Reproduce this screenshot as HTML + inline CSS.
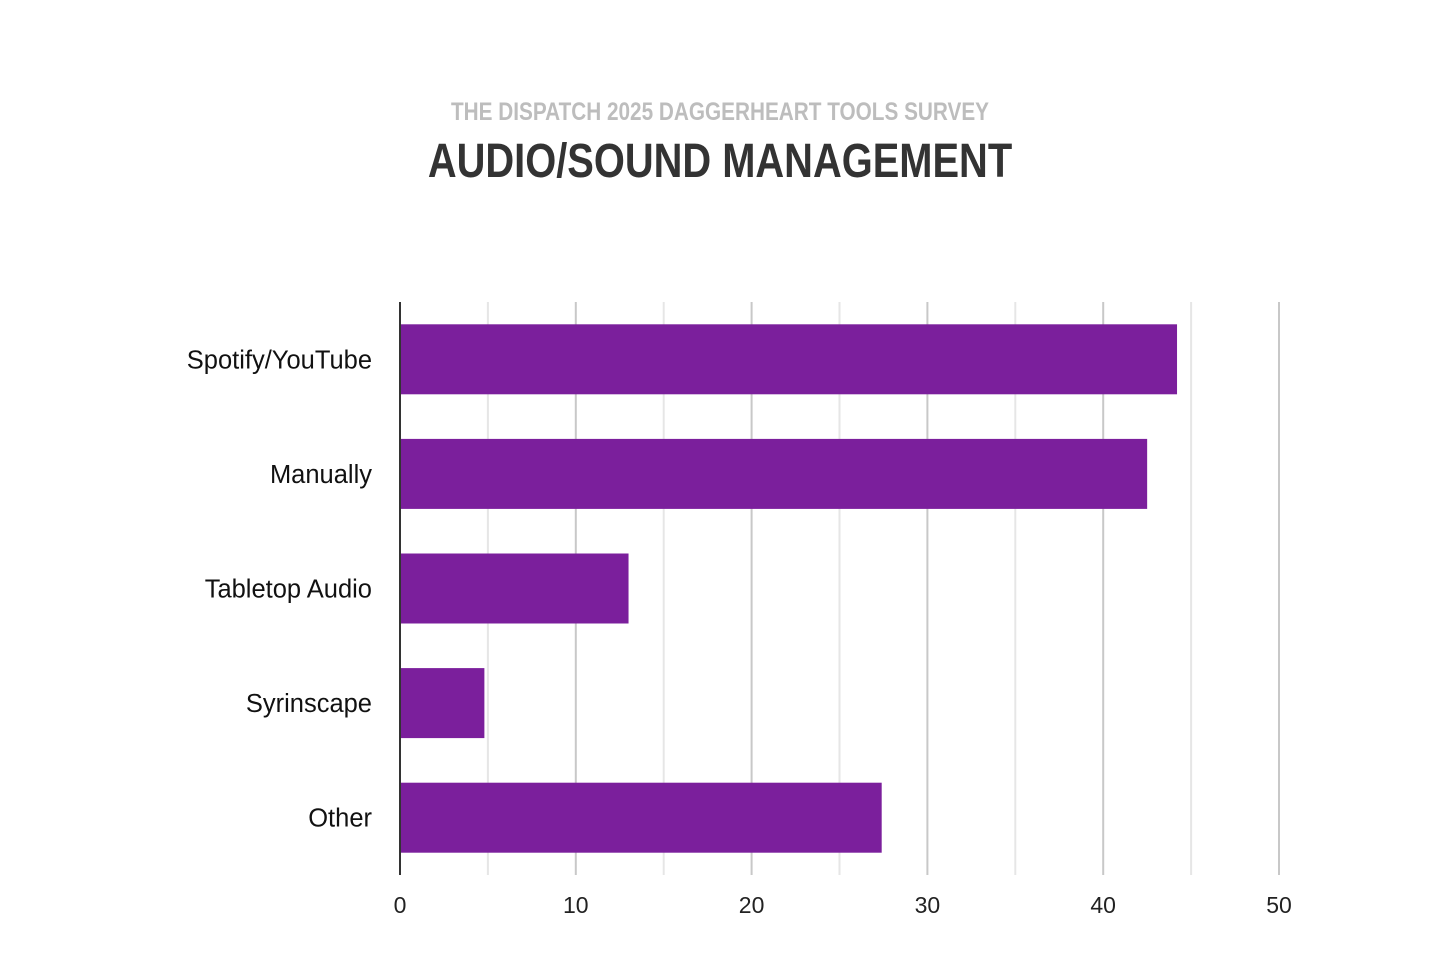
<!DOCTYPE html>
<html>
<head>
<meta charset="utf-8">
<style>
html,body{margin:0;padding:0;background:#fff;}
body{width:1440px;height:960px;position:relative;overflow:hidden;font-family:"Liberation Sans",Arial,sans-serif;}
.sub{position:absolute;left:0;width:1440px;top:98px;text-align:center;font-family:"Liberation Sans Narrow","Liberation Sans",sans-serif;font-weight:bold;font-size:25px;color:#bdbdbd;transform:scaleX(0.83);transform-origin:720px 0;}
.title{position:absolute;left:0;width:1440px;top:134px;text-align:center;font-family:"Liberation Sans Narrow","Liberation Sans",sans-serif;font-weight:bold;font-size:48px;color:#333;transform:scaleX(0.83);transform-origin:720px 0;}
svg{position:absolute;left:0;top:0;}
</style>
</head>
<body>
<div class="sub">THE DISPATCH 2025 DAGGERHEART TOOLS SURVEY</div>
<div class="title">AUDIO/SOUND MANAGEMENT</div>
<svg id="chart" width="1440" height="960"></svg>
<script>
const categories = ["Spotify/YouTube","Manually","Tabletop Audio","Syrinscape","Other"];
const values = [44.2, 42.5, 13, 4.8, 27.4];
const ticks = [0,10,20,30,40,50];
const minorTicks = [5,15,25,35,45];

const svg = document.getElementById('chart');
const NS = "http://www.w3.org/2000/svg";
const x0 = 400, x1 = 1279, vmax = 50;
const plotTop = 302, plotBottom = 875;
const xs = v => x0 + (v / vmax) * (x1 - x0);
const band = (plotBottom - plotTop) / categories.length;
const yc = i => plotTop + band * (i + 0.5);
const barH = 70;
function mk(tag, attrs){const e=document.createElementNS(NS,tag);for(const k in attrs)e.setAttribute(k,attrs[k]);svg.appendChild(e);return e;}

minorTicks.forEach(t=>{
  const l = mk('line',{x1:xs(t),x2:xs(t),y1:plotTop,y2:plotBottom,stroke:'#e6e6e6','stroke-width':2});
  
  
});
ticks.forEach(t=>{
  if(t===0) return;
  const l = mk('line',{x1:xs(t),x2:xs(t),y1:plotTop,y2:plotBottom,stroke:'#c8c8c8','stroke-width':2});
  
  
});
ticks.forEach(t=>{
  const tx = mk('text',{x:xs(t),y:913,'text-anchor':'middle','font-size':23,fill:'#222','font-family':'Liberation Sans, sans-serif'});
  tx.textContent = t;
  
  
});
categories.forEach((c,i)=>{
  const r = mk('rect',{x:x0,y:yc(i)-barH/2,width:xs(values[i])-x0,height:barH,fill:'#7b1f9c'});
  
  
  const tx = mk('text',{x:372,y:yc(i)+9,'text-anchor':'end','font-size':25.5,fill:'#111','font-family':'Liberation Sans, sans-serif'});
  tx.textContent = c;
  
  
});
const ax = mk('line',{x1:x0,x2:x0,y1:plotTop,y2:plotBottom,stroke:'#333','stroke-width':2});


</script>
</body>
</html>
